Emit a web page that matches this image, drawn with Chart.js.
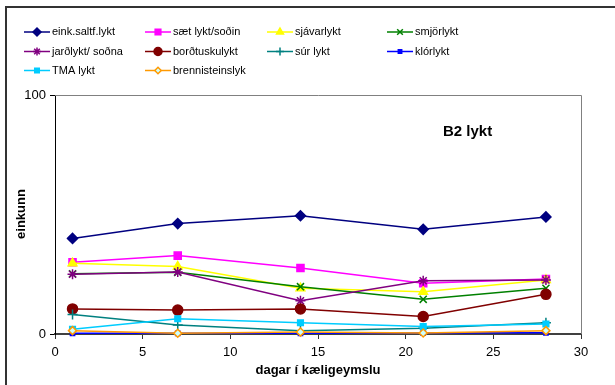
<!DOCTYPE html>
<html>
<head>
<meta charset="utf-8">
<script src="https://cdn.jsdelivr.net/npm/chart.js@4.4.1/dist/chart.umd.min.js"></script>
<style>
  html, body { margin: 0; padding: 0; background: #fff; }
  #wrap { width: 615px; height: 385px; position: relative; }
</style>
</head>
<body>
<div id="wrap"><canvas id="grafico"></canvas></div>
<script>
'use strict';

// dagar í kæligeymslu
const days = [1, 7, 14, 21, 28];

const labels = ['eink.saltf.lykt', 'sæt lykt/soðin', 'sjávarlykt', 'smjörlykt',
  'jarðlykt/ soðna', 'borðtuskulykt', 'súr lykt', 'klórlykt',
  'TMA lykt', 'brennisteinslyk'];

const einkSaltf   = [40.0, 46.2, 49.5, 43.8, 49.0];
const saetLykt    = [30.0, 32.8, 27.6, 21.2, 23.0];
const sjavarlykt  = [29.6, 28.2, 19.1, 17.7, 22.6];
const smjorlykt   = [25.2, 25.8, 19.8, 14.5, 19.1];
const jardlykt    = [25.0, 25.9, 13.9, 22.3, 22.6];
const bordtusku   = [10.5, 10.0, 10.5,  7.3, 16.6];
const surLykt     = [ 8.2,  3.8,  1.4,  2.4,  4.7];
const klorlykt    = [ 0.3,  0.3,  0.3,  0.4,  0.5];
const tmaLykt     = [ 2.0,  6.4,  4.7,  3.1,  4.2];
const brennistein = [ 1.4,  0.3,  0.8,  0.4,  1.4];

const yTicks = [0, 100];

const seriesValues = [einkSaltf, saetLykt, sjavarlykt, smjorlykt, jardlykt,
  bordtusku, surLykt, klorlykt, tmaLykt, brennistein];

// litir og merki eins og í Excel
const styles = [
  { c: '#000080', p: 'rectRot', r: 5, fill: '#000080' },
  { c: '#ff00ff', p: 'rect', r: 5, fill: '#ff00ff' },
  { c: '#ffff00', p: 'triangle', r: 5, fill: '#ffff00' },
  { c: '#008000', p: 'crossRot', r: 5, fill: '#008000' },
  { c: '#800080', p: 'star', r: 5, fill: '#800080' },
  { c: '#800000', p: 'circle', r: 5, fill: '#800000' },
  { c: '#008080', p: 'cross', r: 5, fill: '#008080' },
  { c: '#0000ff', p: 'rect', r: 3, fill: '#0000ff' },
  { c: '#00ccff', p: 'rect', r: 4, fill: '#00ccff' },
  { c: '#ff9900', p: 'rectRot', r: 4, fill: '#ccffff' }
];

const datasets = seriesValues.map((vals, i) => ({
  label: labels[i],
  data: days.map((d, k) => ({ x: d, y: vals[k] })),
  borderColor: styles[i].c,
  backgroundColor: styles[i].fill,
  pointBorderColor: styles[i].c,
  pointBackgroundColor: styles[i].fill,
  pointStyle: styles[i].p,
  pointRadius: styles[i].r,
  pointBorderWidth: 1.5,
  borderWidth: 1.5,
  order: 20 - i,
  clip: false
}));

const decor = {
  id: 'decor',
  afterDraw(chart) {
    const ctx = chart.ctx;
    const a = chart.chartArea;
    ctx.save();

    // ytri rammi
    ctx.strokeStyle = '#333';
    ctx.lineWidth = 2;
    ctx.beginPath();
    ctx.moveTo(6, 385);
    ctx.lineTo(6, 7);
    ctx.lineTo(615, 7);
    ctx.stroke();

    // efri og hægri rammi teiknisvæðis
    ctx.strokeStyle = '#808080';
    ctx.lineWidth = 1;
    ctx.beginPath();
    ctx.moveTo(a.left, a.top + 0.5);
    ctx.lineTo(a.right + 0.5, a.top + 0.5);
    ctx.lineTo(a.right + 0.5, a.bottom);
    ctx.stroke();

    // legend
    const colX = [24, 145, 267, 387];
    const rowY = [32, 51.5, 70.5];
    ctx.font = '11px "Liberation Sans", Arial, sans-serif';
    ctx.textBaseline = 'middle';
    ctx.textAlign = 'left';
    chart.data.datasets.forEach((ds, i) => {
      const x = colX[i % 4], y = rowY[Math.floor(i / 4)];
      ctx.strokeStyle = ds.borderColor;
      ctx.lineWidth = 1.5;
      ctx.beginPath();
      ctx.moveTo(x, y);
      ctx.lineTo(x + 26, y);
      ctx.stroke();
      ctx.fillStyle = ds.pointBackgroundColor;
      ctx.strokeStyle = ds.pointBorderColor;
      Chart.helpers.drawPoint(ctx, {
        pointStyle: ds.pointStyle, radius: ds.pointRadius * 0.8, rotation: 0, borderWidth: 1.5
      }, x + 13, y);
      ctx.fillStyle = '#000';
      ctx.fillText(ds.label, x + 28, y);
    });

    // titlar
    ctx.fillStyle = '#000';
    ctx.font = 'bold 13px "Liberation Sans", Arial, sans-serif';
    ctx.textAlign = 'center';
    ctx.fillText('dagar í kæligeymslu', 318, 370);
    ctx.save();
    ctx.translate(21, 214);
    ctx.rotate(-Math.PI / 2);
    ctx.fillText('einkunn', 0, 0);
    ctx.restore();

    ctx.font = 'bold 15px "Liberation Sans", Arial, sans-serif';
    ctx.textAlign = 'left';
    ctx.fillText('B2 lykt', 443, 132);
    ctx.restore();
  }
};

const canvasCtx = document.getElementById('grafico').getContext('2d');
new Chart(canvasCtx, {
  type: 'line',
  data: { datasets },
  plugins: [decor],
  options: {
    responsive: true,
    maintainAspectRatio: false,
    animation: false,
    layout: { padding: { left: 0, top: 95, right: 34, bottom: 0 } },
    plugins: { legend: { display: false }, tooltip: { enabled: false } },
    scales: {
      x: {
        type: 'linear',
        min: 0, max: 30,
        afterFit: s => { s.height = 51; },
        ticks: {
          stepSize: 5, color: '#000', padding: 6,
          font: { family: '"Liberation Sans", Arial, sans-serif', size: 13 }
        },
        grid: { drawOnChartArea: false, tickLength: 5, color: '#333', tickColor: '#333' },
        border: { color: '#404040', width: 2 }
      },
      y: {
        min: 0, max: 100,
        afterFit: s => { s.width = 55; },
        afterBuildTicks: s => { s.ticks = yTicks.map(v => ({ value: v })); },
        ticks: {
          color: '#000', padding: 4,
          font: { family: '"Liberation Sans", Arial, sans-serif', size: 13 }
        },
        grid: { drawOnChartArea: false, tickLength: 5, color: '#000', tickColor: '#000' },
        border: { color: '#000', width: 1 }
      }
    }
  }
});
</script>
</body>
</html>
